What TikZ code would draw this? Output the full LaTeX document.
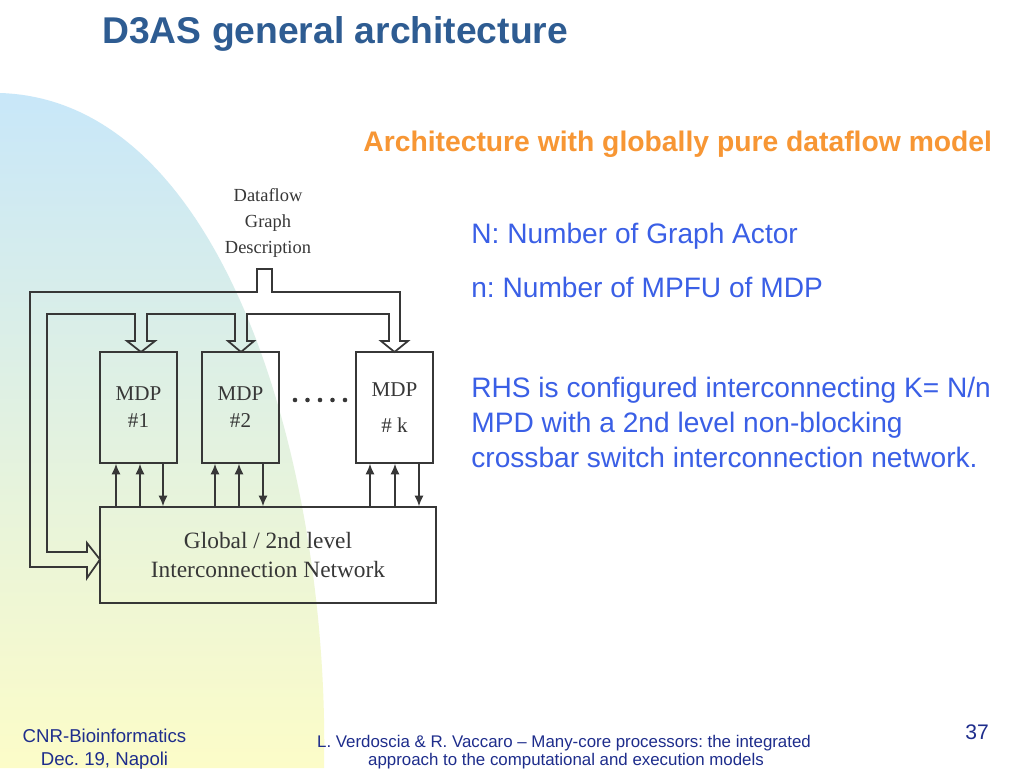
\documentclass[tikz,border=0pt]{standalone}
\usepackage{fontspec}
\setmainfont{Liberation Serif}
\setsansfont{Liberation Sans}
\usetikzlibrary{arrows.meta,positioning}
\frenchspacing

\definecolor{titleblue}{RGB}{46,92,146}
\definecolor{suborange}{RGB}{247,150,52}
\definecolor{noteblue}{RGB}{58,95,230}
\definecolor{footblue}{RGB}{30,45,140}
\definecolor{arcblue}{RGB}{200,231,249}
\definecolor{arcgreen}{RGB}{228,242,222}
\definecolor{arcyellow}{RGB}{252,252,200}
\definecolor{ink}{RGB}{55,55,55}

\tikzset{
  mdpbox/.style={draw=ink, line width=1pt, minimum width=1.54cm, minimum height=2.22cm,
    inner sep=0pt, align=center, text=ink, font=\fontsize{12}{15.4}\selectfont},
  netbox/.style={draw=ink, line width=1pt, minimum width=6.72cm, minimum height=1.92cm,
    inner sep=0pt, align=center, text=ink, font=\fontsize{13.3}{16.5}\selectfont},
  pipe/.style={draw=ink, line width=1pt, line join=miter},
  sig/.style={draw=ink, line width=0.8pt, -{Latex[length=6pt,width=5.2pt]}},
  note/.style={anchor=base west, inner sep=0pt, text=noteblue, font=\sffamily\fontsize{16}{20}\selectfont},
  foot/.style={anchor=base, inner sep=0pt, text=footblue, font=\sffamily\fontsize{10.6}{13}\selectfont},
}

\begin{document}
\begin{tikzpicture}[x=0.02cm, y=-0.02cm]
  % page, 1024 x 768 px
  \useasboundingbox (0,0) rectangle (1024,768);
  \fill[white] (0,0) rectangle (1024,768);

  % background arc on the left
  \shade[top color=arcblue, middle color=arcgreen, bottom color=arcyellow]
    (0,93) .. controls (230,100) and (330,480) .. (324,768) -- (0,768) -- cycle;

  % headings
  \node[anchor=base west, inner sep=0pt, text=titleblue, font=\sffamily\bfseries\fontsize{21.2}{25}\selectfont]
    (title) at (102,43) {D3AS general architecture};
  \node[anchor=base west, inner sep=0pt, text=suborange, font=\sffamily\bfseries\fontsize{16.1}{20}\selectfont]
    (subtitle) at (363,151) {Architecture with globally pure dataflow model};

  % source description
  \node[align=center, text=ink, font=\fontsize{10.5}{14.8}\selectfont]
    (dfg) at (268,222.5) {Dataflow\\Graph\\Description};

  % processors and network
  \node[mdpbox] (mdpA) at (138.5,407.5) {MDP\\\#1};
  \node[mdpbox] (mdpB) at (240.5,407.5) {MDP\\\#2};
  \node[mdpbox] (mdpK) at (394.5,407.5) {MDP\\[5.5pt]\# k};
  \node[netbox] (net) at (268,555) {Global / 2nd level\\Interconnection Network};

  % dots between MDP 2 and MDP k
  \foreach \i in {0,...,4}
    \fill[ink] ({295+12.5*\i},400) circle[radius=1.3pt];

  % hollow distribution pipe
  \draw[pipe] (87,567) -- (30,567) -- (30,292) -- (257,292) -- (257,269) -- (272,269)
    -- (272,292) -- (400,292) -- (400,341) -- (408,341) -- (394.5,352) -- (381,341)
    -- (389,341) -- (389,314) -- (247,314) -- (247,341) -- (254,341) -- (241,352)
    -- (228,341) -- (235,341) -- (235,314) -- (147,314) -- (147,341) -- (155,341)
    -- (141,352) -- (127,341) -- (135,341) -- (135,314) -- (47,314) -- (47,552)
    -- (87,552) -- (87,543) -- (100,559.5) -- (87,578) -- cycle;

  % links network <-> MDPs
  \foreach \x in {116,140,215,239,370,395}
    \draw[sig] (\x,0 |- net.north) -- (\x,0 |- mdpA.south);
  \foreach \x in {163,263,419}
    \draw[sig] (\x,0 |- mdpA.south) -- (\x,0 |- net.north);

  % notes
  \node[note] (nN) at (471,243) {N: Number of Graph Actor};
  \node[note] (nn) at (471,297) {n: Number of MPFU of MDP};
  \node[note] (rhsA) at (471,397) {RHS is configured interconnecting K= N/n};
  \node[note] (rhsB) at (471,432) {MPD with a 2nd level non-blocking};
  \node[note] (rhsC) at (471,467) {crossbar switch interconnection network.};

  % footer
  \node[foot] (orgA) at (104.5,742) {CNR-Bioinformatics};
  \node[foot] (orgB) at (104.5,765) {Dec. 19, Napoli};
  \node[foot, font=\sffamily\fontsize{9.6}{12}\selectfont] (refA) at (564,747)
    {L. Verdoscia \& R. Vaccaro -- Many-core processors: the integrated};
  \node[foot, font=\sffamily\fontsize{9.6}{12}\selectfont] (refB) at (566,765)
    {approach to the computational and execution models};
  \node[foot, font=\sffamily\fontsize{12}{14}\selectfont] (page) at (977,739) {37};
\end{tikzpicture}
\end{document}
